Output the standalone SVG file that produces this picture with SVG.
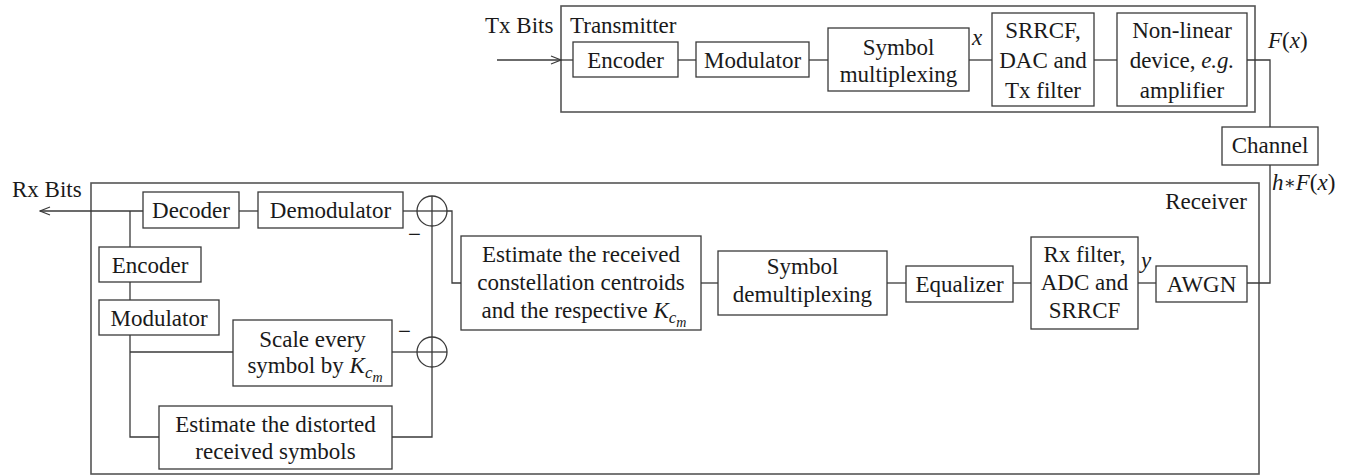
<svg xmlns="http://www.w3.org/2000/svg" width="1353" height="476" viewBox="0 0 1353 476" font-family="'Times New Roman', 'Liberation Serif', Tinos, 'DejaVu Serif', serif">
<defs>
<style>
text{font-family:'Times New Roman','Liberation Serif',Tinos,'DejaVu Serif',serif;font-size:23px;fill:#1a1a1a}
.c{text-anchor:middle}
.e{text-anchor:end}
.i{font-style:italic}
rect{fill:#fff;stroke:#3a3a3a;stroke-width:1.3}
rect.outer{fill:none;stroke:#555;stroke-width:1.6}
.w path,.w line{fill:none;stroke:#3a3a3a;stroke-width:1.3}
circle{fill:none;stroke:#3a3a3a;stroke-width:1.3}
.sum line{stroke:#3a3a3a;stroke-width:1.3}
</style>
<marker id="arr" markerWidth="12" markerHeight="10" refX="11" refY="5" orient="auto" markerUnits="userSpaceOnUse">
<path d="M1,1 L11,5 L1,9" fill="none" stroke="#3a3a3a" stroke-width="1.2"/>
</marker>
</defs>

<g id="transmitter">
<rect class="outer" x="561" y="6" width="694" height="106"/>
<text x="570" y="33">Transmitter</text>
</g>
<g id="receiver">
<rect class="outer" x="91" y="183" width="1168" height="291"/>
<text class="e" x="1247" y="209">Receiver</text>
</g>

<g id="connectors" class="w">
<line x1="497" y1="60" x2="561" y2="60" marker-end="url(#arr)"/>
<line x1="561" y1="60" x2="573" y2="60"/>
<line x1="678" y1="60" x2="696" y2="60"/>
<line x1="809" y1="60" x2="828" y2="60"/>
<line x1="969" y1="60" x2="992" y2="60"/>
<line x1="1094" y1="60" x2="1117" y2="60"/>
<path d="M1247,60 H1270 V127"/>
<path d="M1270,165 V283 H1247"/>
<line x1="1138" y1="283" x2="1156" y2="283"/>
<line x1="1013" y1="283" x2="1031" y2="283"/>
<line x1="887" y1="283" x2="906" y2="283"/>
<line x1="701" y1="283" x2="718" y2="283"/>
<path d="M447,211 H452 V283 H461"/>
<line x1="403" y1="211" x2="417" y2="211"/>
<line x1="239" y1="211" x2="258" y2="211"/>
<line x1="143" y1="211" x2="40" y2="211" marker-end="url(#arr)"/>
<line x1="130" y1="211" x2="130" y2="247"/>
<line x1="130" y1="282" x2="130" y2="300"/>
<path d="M130,335 V437 H159"/>
<line x1="130" y1="352" x2="233" y2="352"/>
<line x1="392" y1="352" x2="417" y2="352"/>
<path d="M392,437 H432 V367"/>
<line x1="432" y1="226" x2="432" y2="337"/>
</g>

<g id="txbits"><text x="485" y="33">Tx Bits</text></g>
<g id="tx-encoder"><rect x="573" y="42" width="105" height="35"/><text class="c" x="625.5" y="68">Encoder</text></g>
<g id="tx-modulator"><rect x="696" y="42" width="113" height="35"/><text class="c" x="752.5" y="68">Modulator</text></g>
<g id="symbol-mux"><rect x="828" y="28" width="141" height="63"/><text class="c" x="898.5" y="55">Symbol</text><text class="c" x="898.5" y="82">multiplexing</text></g>
<g id="label-x"><text class="i" x="972" y="45">x</text></g>
<g id="srrcf-tx"><rect x="992" y="13" width="102" height="93"/><text class="c" x="1043" y="38">SRRCF,</text><text class="c" x="1043" y="68">DAC and</text><text class="c" x="1043" y="98">Tx filter</text></g>
<g id="nonlinear"><rect x="1117" y="13" width="130" height="93"/><text class="c" x="1182" y="38">Non-linear</text><text class="c" x="1182" y="68">device, <tspan class="i">e.g.</tspan></text><text class="c" x="1182" y="98">amplifier</text></g>
<g id="label-fx"><text x="1268" y="48"><tspan class="i">F</tspan>(<tspan class="i">x</tspan>)</text></g>
<g id="channel"><rect x="1222" y="127" width="96" height="38"/><text class="c" x="1270" y="153">Channel</text></g>
<g id="label-hfx"><text x="1272" y="190"><tspan class="i">h</tspan><tspan font-size="18" dy="-1">∗</tspan><tspan class="i" dy="1">F</tspan>(<tspan class="i">x</tspan>)</text></g>

<g id="awgn"><rect x="1156" y="266" width="91" height="36"/><text class="c" x="1201.5" y="292">AWGN</text></g>
<g id="label-y"><text class="i" x="1141" y="268">y</text></g>
<g id="rx-filter"><rect x="1031" y="237" width="107" height="92"/><text class="c" x="1084.5" y="262">Rx filter,</text><text class="c" x="1084.5" y="290">ADC and</text><text class="c" x="1084.5" y="318">SRRCF</text></g>
<g id="equalizer"><rect x="906" y="266" width="107" height="36"/><text class="c" x="959.5" y="292">Equalizer</text></g>
<g id="symbol-demux"><rect x="718" y="251" width="169" height="64"/><text class="c" x="802.5" y="274">Symbol</text><text class="c" x="802.5" y="302">demultiplexing</text></g>
<g id="estimate-centroids"><rect x="461" y="236" width="240" height="94"/><text class="c" x="581" y="262">Estimate the received</text><text class="c" x="581" y="290">constellation centroids</text><text class="c" x="584" y="318">and the respective <tspan class="i">K</tspan><tspan class="i" font-size="17" dy="5">c</tspan><tspan class="i" font-size="14" dy="4">m</tspan></text></g>

<g id="sum-top" class="sum"><circle cx="432" cy="211" r="15"/><line x1="417" y1="211" x2="447" y2="211"/><line x1="432" y1="196" x2="432" y2="226"/></g>
<g id="sum-bottom" class="sum"><circle cx="432" cy="352" r="15"/><line x1="417" y1="352" x2="447" y2="352"/><line x1="432" y1="337" x2="432" y2="367"/></g>
<g id="minus-1"><text x="408" y="242">−</text></g>
<g id="minus-2"><text x="398" y="339">−</text></g>

<g id="rxbits"><text x="12" y="197">Rx Bits</text></g>
<g id="decoder"><rect x="143" y="192" width="96" height="36"/><text class="c" x="191" y="218">Decoder</text></g>
<g id="demodulator"><rect x="258" y="192" width="145" height="36"/><text class="c" x="330.5" y="218">Demodulator</text></g>
<g id="rx-encoder"><rect x="99" y="247" width="102" height="35"/><text class="c" x="150" y="273">Encoder</text></g>
<g id="rx-modulator"><rect x="99" y="300" width="120" height="35"/><text class="c" x="159" y="326">Modulator</text></g>
<g id="scale"><rect x="233" y="320" width="159" height="66"/><text class="c" x="312.5" y="347">Scale every</text><text class="c" x="315" y="373">symbol by <tspan class="i">K</tspan><tspan class="i" font-size="17" dy="5">c</tspan><tspan class="i" font-size="14" dy="4">m</tspan></text></g>
<g id="estimate-distorted"><rect x="159" y="406" width="233" height="63"/><text class="c" x="275.5" y="432">Estimate the distorted</text><text class="c" x="275.5" y="459">received symbols</text></g>
</svg>
